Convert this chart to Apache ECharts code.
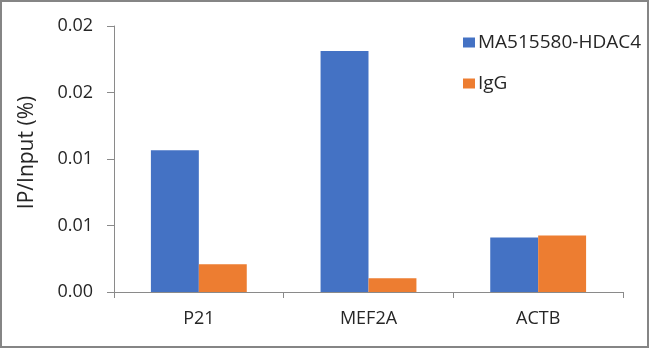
<!DOCTYPE html>
<html>
<head>
<meta charset="utf-8">
<script src="https://cdn.jsdelivr.net/npm/echarts@6/dist/echarts.min.js"></script>
<style>
  html, body { margin: 0; padding: 0; background: #fff; }
  #chart { width: 650px; height: 349px; }
</style>
</head>
<body>
<div id="chart"></div>
<script>
// ChIP enrichment, IP/Input (%)
var categories = ['P21', 'MEF2A', 'ACTB'];
var hdac4Values = [0.01065, 0.01812, 0.00409];
var iggValues = [0.00208, 0.00103, 0.00424];
var seriesNames = ['MA515580-HDAC4', 'IgG'];
var yTicks = [0, 0.005, 0.01, 0.015, 0.02];
var yTickLabels = ['0.00', '0.01', '0.01', '0.02', '0.02'];

var FONT = '"Open Sans", sans-serif';
var TEXT = '#262626';
var AXIS = '#8a8a8a';

var chart = echarts.init(document.getElementById('chart'), null, { renderer: 'canvas' });
chart.setOption({
  animation: false,
  backgroundColor: '#fff',
  textStyle: { fontFamily: FONT, color: TEXT },
  graphic: [{
    type: 'rect',
    shape: { x: 1, y: 1, width: 647, height: 346 },
    style: { fill: 'none', stroke: '#858585', lineWidth: 2 },
    silent: true
  }],
  grid: { left: 114, right: 27, top: 26, bottom: 57, containLabel: false },
  legend: {
    orient: 'vertical',
    left: 458,
    top: 28,
    itemWidth: 12,
    itemHeight: 10,
    itemGap: 22,
    icon: 'rect',
    textStyle: { fontFamily: FONT, fontSize: 19, color: TEXT, padding: [0, 0, 0, -2] },
    data: seriesNames
  },
  xAxis: {
    type: 'category',
    data: categories,
    axisLine: { lineStyle: { color: AXIS, width: 1 } },
    axisTick: { show: true, length: 6, lineStyle: { color: AXIS } },
    axisLabel: { fontFamily: FONT, fontSize: 18, color: TEXT, margin: 18 }
  },
  yAxis: {
    type: 'value',
    min: yTicks[0],
    max: yTicks[yTicks.length - 1],
    interval: 0.005,
    name: 'IP/Input (%)',
    nameLocation: 'middle',
    nameGap: 76,
    nameTextStyle: { fontFamily: FONT, fontSize: 21, color: TEXT, padding: [0, 0, 0, 13] },
    axisLine: { show: true, lineStyle: { color: AXIS, width: 1 } },
    axisTick: { show: true, length: 7, lineStyle: { color: AXIS } },
    splitLine: { show: false },
    axisLabel: {
      fontFamily: FONT, fontSize: 18, color: TEXT, margin: 21,
      formatter: function (v) {
        var i = Math.round(v / 0.005);
        return yTickLabels[i] !== undefined ? yTickLabels[i] : '';
      }
    }
  },
  series: [
    {
      name: seriesNames[0],
      type: 'bar',
      data: hdac4Values,
      itemStyle: { color: '#4472C4' },
      barGap: '0%',
      barCategoryGap: '43.5%'
    },
    {
      name: seriesNames[1],
      type: 'bar',
      data: iggValues,
      itemStyle: { color: '#ED7D31' },
      barGap: '0%',
      barCategoryGap: '43.5%'
    }
  ]
});
</script>
</body>
</html>
